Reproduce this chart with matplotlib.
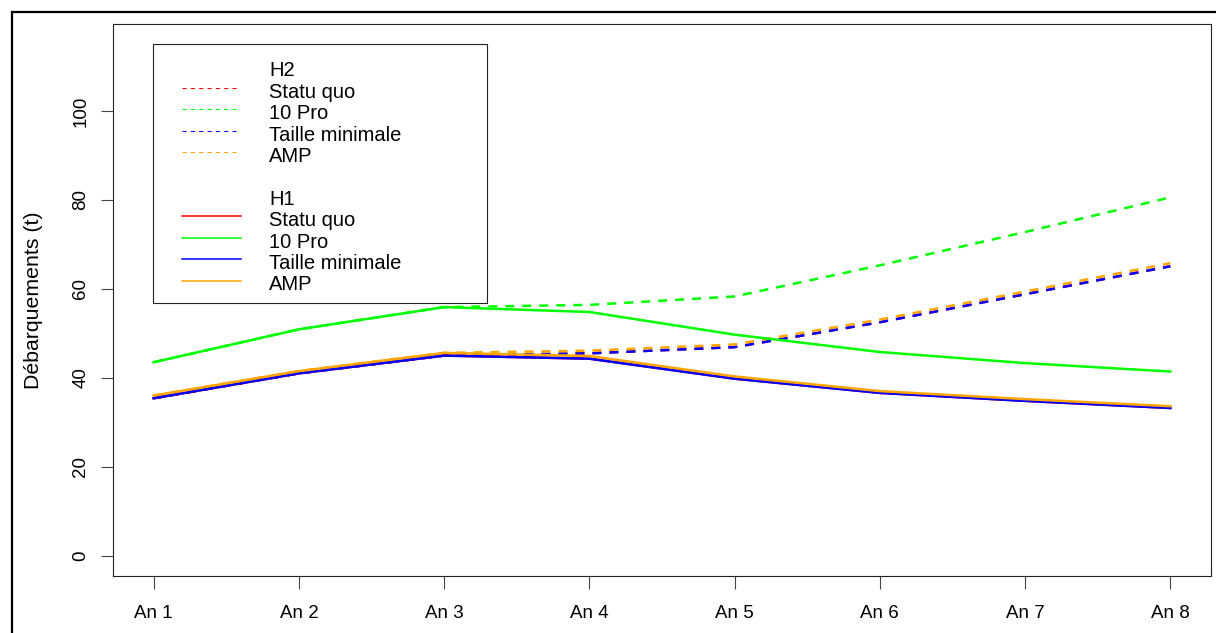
import numpy as np
import matplotlib
matplotlib.use('Agg')
import matplotlib.pyplot as plt
from matplotlib.lines import Line2D
from matplotlib.patches import Rectangle

plt.rcParams['font.family'] = ['Liberation Sans', 'DejaVu Sans']

# Data
years = ['An 1', 'An 2', 'An 3', 'An 4', 'An 5', 'An 6', 'An 7', 'An 8']
scenarios = ['Statu quo', '10 Pro', 'Taille minimale', 'AMP']
colors = ['#FF0000', '#00FF00', '#0000FF', '#FFA500']

# H2 (dashed)
h2_statu_quo = [35.4, 41.0, 45.0, 45.5, 46.9, 52.5, 58.8, 65.1]
h2_10pro = [43.5, 50.9, 55.9, 56.4, 58.3, 65.3, 72.8, 80.6]
h2_taille = [35.4, 41.0, 45.0, 45.5, 46.9, 52.5, 58.8, 65.1]
h2_amp = [36.0, 41.5, 45.6, 46.1, 47.5, 53.1, 59.4, 65.8]

# H1 (solid)
h1_statu_quo = [35.4, 41.0, 45.0, 44.3, 39.8, 36.6, 34.8, 33.2]
h1_10pro = [43.5, 50.9, 55.9, 54.8, 49.7, 45.8, 43.3, 41.4]
h1_taille = [35.4, 41.0, 45.0, 44.3, 39.8, 36.6, 34.8, 33.2]
h1_amp = [36.0, 41.5, 45.6, 44.9, 40.3, 37.0, 35.2, 33.6]

h2 = [h2_statu_quo, h2_10pro, h2_taille, h2_amp]
h1 = [h1_statu_quo, h1_10pro, h1_taille, h1_amp]

W, H = 1216, 633
fig = plt.figure(figsize=(W / 100, H / 100), dpi=100)
ax = fig.add_axes([113 / W, 1 - 576 / H, (1211 - 113) / W, (576 - 24) / H])

x = np.arange(1, len(years) + 1)
dash = (0, (3.6, 3.2))
for vals, c in zip(h2, colors):
    ax.plot(x, vals, color=c, lw=1.8, linestyle=dash)
for vals, c in zip(h1, colors):
    ax.plot(x, vals, color=c, lw=1.8)

ax.set_xlim(0.72, 8.28)
ax.set_ylim(-4.6, 119.6)
ax.set_xticks(x, years)
ax.set_yticks(range(0, 101, 20))
ax.tick_params(axis='both', length=9, width=0.8, color='#444444', labelsize=13.5)
ax.tick_params(axis='x', pad=12)
ax.tick_params(axis='y', pad=8)
for lab in ax.get_yticklabels():
    lab.set_rotation(90)
    lab.set_va('center')
for sp in ax.spines.values():
    sp.set_linewidth(0.8)
    sp.set_color('#222222')

fig.text(34 / W, 1 - 300 / H, 'Débarquements (t)', rotation=90,
         ha='center', va='center', fontsize=15.3)

# Legend drawn by hand so the box matches the original size
fig.add_artist(Rectangle((153 / W, 1 - 303 / H), (487 - 153) / W, (303 - 44) / H,
                         transform=fig.transFigure, facecolor='white',
                         edgecolor='#222222', lw=0.8))

row0, step = 76.5, 21.4
tx = 269 / W


def legend_row(i, label, color=None, style='-', lw=1.0, x1=241):
    base = row0 + i * step
    fig.text(tx, 1 - base / H, label, fontsize=14.5, va='baseline', ha='left')
    if color is not None:
        yl = 1 - (base - 10) / H
        fig.add_artist(Line2D([182 / W, x1 / W], [yl, yl], transform=fig.transFigure,
                              color=color, lw=lw, linestyle=style))


legend_row(0, 'H2')
for i, (s, c) in enumerate(zip(scenarios, colors)):
    legend_row(i + 1, s, c, style=(0, (4, 4)), lw=0.75, x1=237)
legend_row(6, 'H1')
for i, (s, c) in enumerate(zip(scenarios, colors)):
    legend_row(i + 7, s, c, style='-', lw=1.1)

# outer frame
fig.add_artist(Rectangle((12 / W, -0.1), 1.2, 1 - 12 / H + 0.1,
                         transform=fig.transFigure, fill=False,
                         edgecolor='black', lw=1.6))

fig.savefig('out.png', dpi=100)
